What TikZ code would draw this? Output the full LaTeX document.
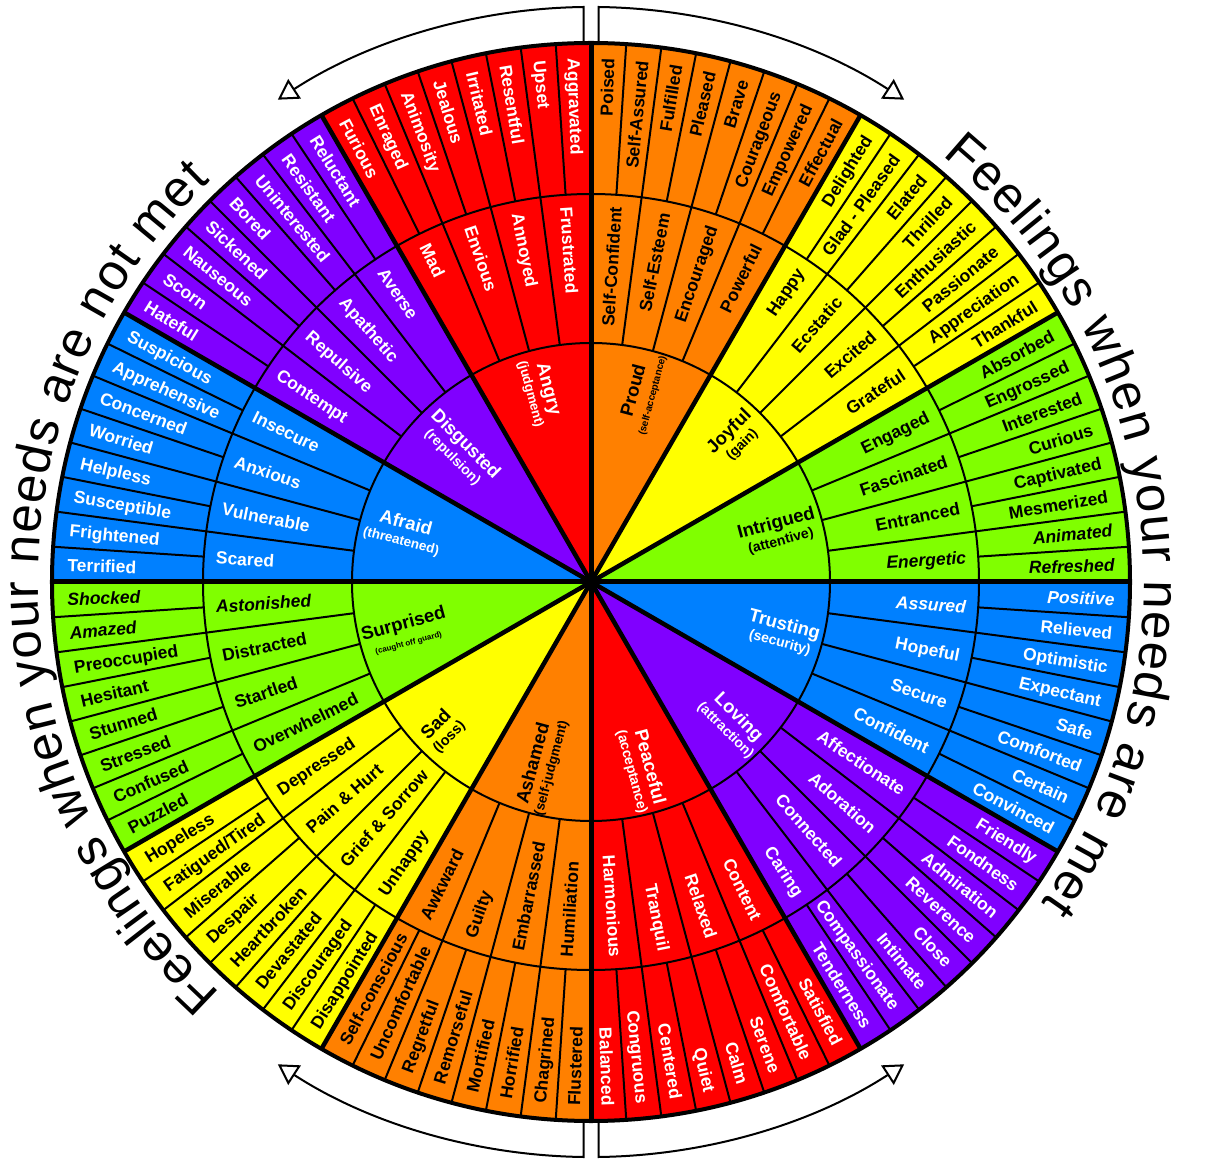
\documentclass[tikz,border=0pt]{standalone}
\usepackage{fontspec}
\setmainfont{Liberation Sans}
\newfontfamily\arcfont{Liberation Sans}
\usetikzlibrary{arrows.meta,decorations.text}
\definecolor{cRed}{HTML}{FF0000}
\definecolor{cOrange}{HTML}{FF8000}
\definecolor{cYellow}{HTML}{FFFF00}
\definecolor{cGreen}{HTML}{80FF00}
\definecolor{cBlue}{HTML}{0080FF}
\definecolor{cPurple}{HTML}{8000FF}
\begin{document}
\begin{tikzpicture}[x=1pt,y=1pt,
  word/.style={font=\bfseries\fontsize{17.5}{17.5}\selectfont, inner sep=0pt, text height=12.6pt, text depth=0pt},
  corelbl/.style={font=\bfseries\fontsize{18.5}{17}\selectfont, inner sep=0pt, align=center},
  sep/.style={line width=2pt},
  bound/.style={line width=4.5pt},
  arrowline/.style={line width=2pt, -{Triangle[open,length=20pt,width=23pt,line width=2pt]}}
]
\useasboundingbox (-591,-587) rectangle (621,582);
\fill[white] (-591,-587) rectangle (621,582);
% sector colours
\foreach \c [count=\s from 0] in {cOrange,cYellow,cGreen,cBlue,cPurple,cRed,cOrange,cYellow,cGreen,cBlue,cPurple,cRed}{
  \pgfmathsetmacro\aa{90-30*\s}
  \pgfmathsetmacro\ab{60-30*\s}
  \fill[\c] (0,0) -- (\aa:539) arc[start angle=\aa, end angle=\ab, radius=539] -- cycle;
}
% thin separators
\foreach \i in {0,...,95}{\pgfmathsetmacro\a{90-3.75*\i}\draw[sep] (\a:388) -- (\a:539);}
\foreach \j in {0,...,47}{\pgfmathsetmacro\a{90-7.5*\j}\draw[sep] (\a:239) -- (\a:388);}
\draw[sep] (0,0) circle[radius=239];
\draw[sep] (0,0) circle[radius=388];
% sector boundaries
\foreach \s in {0,...,11}{\pgfmathsetmacro\a{90-30*\s}\draw[bound] (0,0) -- (\a:539);}
\draw[line width=5pt] (-539,0) -- (539,0);
\draw[line width=5pt] (0,-539) -- (0,539);
\draw[line width=4pt] (0,0) circle[radius=539];
\fill (0,0) circle[radius=8];
% outer ring words
\foreach \w [count=\i from 0] in {Poised,Self-Assured,Fulfilled,Pleased,Brave,Courageous,Empowered,Effectual,
Delighted,Glad - Pleased,Elated,Thrilled,Enthusiastic,Passionate,Appreciation,Thankful,
Absorbed,Engrossed,Interested,Curious,Captivated,Mesmerized,{\itshape Animated},{\itshape Refreshed},
{\itshape Positive},Relieved,Optimistic,Expectant,Safe,Comforted,Certain,Convinced,
Friendly,Fondness,Admiration,Reverence,Close,Intimate,Compassionate,Tenderness,
Satisfied,Comfortable,Serene,Calm,Quiet,Centered,Congruous,Balanced,
Flustered,Chagrined,Horrified,Mortified,Remorseful,Regretful,Uncomfortable,Self-conscious,
Disappointed,Discouraged,Devastated,Heartbroken,Despair,Miserable,Fatigued/Tired,Hopeless,
Puzzled,Confused,Stressed,Stunned,Hesitant,Preoccupied,{\itshape Amazed},{\itshape Shocked},
Terrified,Frightened,Susceptible,Helpless,Worried,Concerned,Apprehensive,Suspicious,
Hateful,Scorn,Nauseous,Sickened,Bored,Uninterested,Resistant,Reluctant,
Furious,Enraged,Animosity,Jealous,Irritated,Resentful,Upset,Aggravated}{
  \pgfmathsetmacro\a{90-3.75*(\i+0.5)}
  \pgfmathtruncatemacro\s{floor(\i/8)}
  \pgfmathtruncatemacro\wt{mod(\s,6)>2 ? 1 : 0}
  \pgfmathtruncatemacro\lft{cos(\a)<0 ? 1 : 0}
  \ifnum\wt=1 \def\tcol{white}\else\def\tcol{black}\fi
  \ifnum\lft=1
    \node[word, text=\tcol, anchor=west, rotate=\a+180] (o\i) at (\a:524) {\w};
  \else
    \node[word, text=\tcol, anchor=east, rotate=\a] (o\i) at (\a:524) {\w};
  \fi
}
% middle ring words
\foreach \w [count=\i from 0] in {Self-Confident,Self-Esteem,Encouraged,Powerful,
Happy,Ecstatic,Excited,Grateful,
Engaged,Fascinated,Entranced,{\itshape Energetic},
{\itshape Assured},Hopeful,Secure,Confident,
Affectionate,Adoration,Connected,Caring,
Content,Relaxed,Tranquil,Harmonious,
Humiliation,Embarrassed,Guilty,Awkward,
Unhappy,Grief \& Sorrow,Pain \& Hurt,Depressed,
Overwhelmed,Startled,Distracted,{\itshape Astonished},
Scared,Vulnerable,Anxious,Insecure,
Contempt,Repulsive,Apathetic,Averse,
Mad,Envious,Annoyed,Frustrated}{
  \pgfmathsetmacro\a{90-7.5*(\i+0.5)}
  \pgfmathtruncatemacro\s{floor(\i/4)}
  \pgfmathtruncatemacro\wt{mod(\s,6)>2 ? 1 : 0}
  \pgfmathtruncatemacro\lft{cos(\a)<0 ? 1 : 0}
  \ifnum\wt=1 \def\tcol{white}\else\def\tcol{black}\fi
  \ifnum\lft=1
    \node[word, text=\tcol, anchor=west, rotate=\a+180] (m\i) at (\a:376) {\w};
  \else
    \node[word, text=\tcol, anchor=east, rotate=\a] (m\i) at (\a:376) {\w};
  \fi
}
% core labels
\foreach \ang/\r/\m/\sb/\sz/\tcol [count=\k] in {
 75/196/Proud/{(self-acceptance)}/10/black,
 45/204/Joyful/{(gain)}/14/black,
 15/194/Intrigued/{(attentive)}/14/black,
 -15/198/Trusting/{(security)}/14/white,
 -45/200/Loving/{(attraction)}/14/white,
 -75/194/Peaceful/{(acceptance)}/14/white,
 -105/190/Ashamed/{(self-judgment)}/13.5/black,
 -135/210/Sad/{(loss)}/14.5/black,
 -165/192/Surprised/{(caught off guard)}/8/black,
 165/194/Afraid/{(threatened)}/13.5/white,
 135/186/Disgusted/{(repulsion)}/14/white,
 105/197/Angry/{(judgment)}/13.2/white}{
  \pgfmathsetmacro\rot{cos(\ang)<0 ? \ang+180 : \ang}
  \node[corelbl, text=\tcol, rotate=\rot] (c\k) at (\ang:\r) {\m\\{\fontsize{\sz}{\sz}\selectfont\sb}};
}
% arrows
\draw[arrowline] (-7.5,539) -- (-7.5,575) arc[start angle=90.75, end angle=123, radius=575];
\draw[arrowline] (7.5,539) -- (7.5,575) arc[start angle=89.25, end angle=57, radius=575];
\draw[arrowline] (-7.5,-539) -- (-7.5,-575) arc[start angle=269.25, end angle=237, radius=575];
\draw[arrowline] (7.5,-539) -- (7.5,-575) arc[start angle=-89.25, end angle=-57, radius=575];
% curved captions
\path[decorate, decoration={text along path, text align=fit to path,
  text={|\arcfont\fontsize{51}{51}\selectfont|Feelings when your needs are met}}]
  (50.5:553) arc[start angle=50.5, end angle=-35.5, radius=553];
\path[decorate, decoration={text along path, text align=fit to path,
  text={|\arcfont\fontsize{51}{51}\selectfont|Feelings when your needs are not met}}]
  (228:553) arc[start angle=228, end angle=133.5, radius=553];
\end{tikzpicture}
\end{document}
